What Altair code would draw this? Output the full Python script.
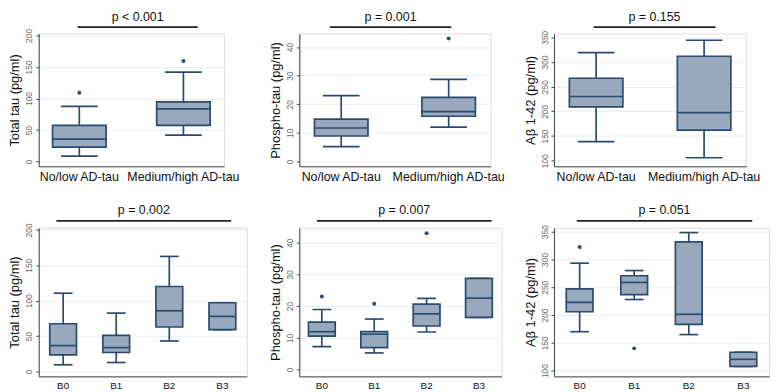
import altair as alt
import pandas as pd

FONT = "Liberation Sans"
NAVY = "#2b4a6f"
FILL = "#98a9be"
GRID = "#e7eef1"
AXISC = "#444444"

CATS_AD = ["No/low AD-tau", "Medium/high AD-tau"]
CATS_B = ["B0", "B1", "B2", "B3"]

# each entry: [lower whisker, Q1, median, Q3, upper whisker]
TTAU_AD = [[8.6, 22.8, 35.4, 57.2, 87.6], [42.0, 57.2, 83.5, 94.7, 141.8]]
TTAU_AD_OUT_CAT = ["No/low AD-tau", "Medium/high AD-tau"]
TTAU_AD_OUT = [109.0, 159.5]

PTAU_AD = [[5.2, 8.9, 11.7, 14.8, 23.0], [12.0, 15.8, 17.4, 22.4, 28.7]]
PTAU_AD_OUT_CAT = ["Medium/high AD-tau"]
PTAU_AD_OUT = [43.0]

AB_AD = [[138.5, 209.0, 230.0, 267.0, 319.0], [105.8, 162.0, 197.4, 311.5, 344.0]]
AB_AD_OUT_CAT = []
AB_AD_OUT = []

TTAU_B = [[9.4, 23.4, 36.5, 67.4, 110.5], [12.6, 26.7, 33.7, 51.0, 82.4],
          [43.0, 62.8, 85.7, 120.0, 162.5], [59.0, 59.0, 77.8, 97.0, 97.0]]
TTAU_B_OUT_CAT = []
TTAU_B_OUT = []

PTAU_B = [[7.2, 10.5, 11.9, 14.9, 18.9], [5.2, 6.9, 11.1, 11.9, 15.9],
          [11.8, 13.7, 17.5, 20.6, 22.4], [16.4, 16.4, 22.5, 28.7, 28.7]]
PTAU_B_OUT_CAT = ["B0", "B1", "B2"]
PTAU_B_OUT = [23.0, 20.7, 43.0]

AB_B = [[170.0, 205.9, 222.7, 247.0, 293.3], [227.9, 236.6, 258.6, 270.7, 280.0],
        [164.8, 183.3, 201.3, 331.5, 348.3], [107.5, 107.5, 120.3, 133.0, 133.0]]
AB_B_OUT_CAT = ["B0", "B1"]
AB_B_OUT = [322.2, 140.0]

TITLES = ["Total tau (pg/ml)", "Phospho-tau (pg/ml)", "Aβ 1-42 (pg/ml)"]
PVALS_AD = ["p < 0.001", "p = 0.001", "p = 0.155"]
PVALS_B = ["p = 0.002", "p = 0.007", "p = 0.051"]
TICKS_TAU = [0, 50, 100, 150, 200]
TICKS_PTAU = [0, 10, 20, 30, 40]
TICKS_AB = [100, 150, 200, 250, 300, 350]


def panel(cats, stats, out_cat, out_val, ytitle, domain, ticks, ptext,
          width, height, po, box, cap, xlab_size, pfrac, line_y, text_y):
    df = pd.DataFrame(stats, columns=["low", "q1", "med", "q3", "high"])
    df["cat"] = cats
    xs = alt.X("cat:N", sort=cats, title=None,
               scale=alt.Scale(type="band", paddingInner=0.5, paddingOuter=po),
               axis=alt.Axis(labelAngle=0, labelFont=FONT, labelFontSize=xlab_size,
                             labelColor="#111111", ticks=False, labelPadding=4,
                             domainColor=AXISC, domainWidth=1, grid=False))
    ysc = alt.Scale(domain=domain, nice=False, zero=False)
    yax = alt.Axis(values=ticks, labelAngle=270, labelAlign="center",
                   labelBaseline="bottom", labelFont=FONT, labelFontSize=8.5,
                   labelColor="#666666", tickSize=3, tickColor=AXISC,
                   labelPadding=2, titleFont=FONT, titleFontSize=13,
                   titleFontWeight="normal", titleColor="#111111", titlePadding=3,
                   grid=True, gridColor=GRID, domainColor=AXISC, domainWidth=1)

    def Y(f):
        return alt.Y(f, scale=ysc, axis=yax, title=ytitle)

    base = alt.Chart(df).encode(x=xs)
    whisk = base.mark_rule(color=NAVY, strokeWidth=1.7).encode(y=Y("low:Q"), y2="high:Q")
    cap_lo = base.mark_tick(color=NAVY, size=cap, thickness=1.7, opacity=1).encode(y=Y("low:Q"))
    cap_hi = base.mark_tick(color=NAVY, size=cap, thickness=1.7, opacity=1).encode(y=Y("high:Q"))
    bx = base.mark_bar(size=box, fill=FILL, stroke=NAVY, strokeWidth=1.7, opacity=1).encode(
        y=Y("q1:Q"), y2="q3:Q")
    med = base.mark_tick(color=NAVY, size=box, thickness=1.7, opacity=1).encode(y=Y("med:Q"))
    layers = [whisk, cap_lo, cap_hi, bx, med]
    if out_val:
        odf = pd.DataFrame({"cat": out_cat, "val": out_val})
        outs = alt.Chart(odf).mark_circle(size=16, color=NAVY, opacity=1).encode(
            x=xs, y=Y("val:Q"))
        layers.append(outs)
    tdf = pd.DataFrame({"t": [ptext]})
    x0 = pfrac[0] * width
    x1 = pfrac[1] * width
    rule = alt.Chart(tdf).mark_rule(color="#222222", strokeWidth=1.8).encode(
        x=alt.value(x0), x2=alt.value(x1), y=alt.value(line_y))
    txt = alt.Chart(tdf).mark_text(font=FONT, fontSize=12.5, color="#111111",
                                   align="center", baseline="alphabetic").encode(
        x=alt.value((x0 + x1) / 2), y=alt.value(text_y), text="t:N")
    layers += [rule, txt]
    return alt.layer(*layers).properties(width=width, height=height)


H1, H2 = 134, 150
p1 = panel(CATS_AD, TTAU_AD, TTAU_AD_OUT_CAT, TTAU_AD_OUT, TITLES[0], [-7.6, 203],
           TICKS_TAU, PVALS_AD[0], 187, H1, 0.14, 54, 37, 12.5, (0.21, 0.858), -6.5, -13)
p2 = panel(CATS_AD, PTAU_AD, PTAU_AD_OUT_CAT, PTAU_AD_OUT, TITLES[1], [-1.7, 44.7],
           TICKS_PTAU, PVALS_AD[1], 193, H1, 0.14, 54, 37, 12.5, (0.16, 0.794), -6.5, -13)
p3 = panel(CATS_AD, AB_AD, AB_AD_OUT_CAT, AB_AD_OUT, TITLES[2], [88.5, 357.6],
           TICKS_AB, PVALS_AD[2], 194, H1, 0.14, 54, 37, 12.5, (0.206, 0.84), -6.5, -13)
p4 = panel(CATS_B, TTAU_B, TTAU_B_OUT_CAT, TTAU_B_OUT, TITLES[0], [-7, 203],
           TICKS_TAU, PVALS_B[0], 210, H2, 0.21, 27, 19, 10, (0.085, 0.925), -7, -14)
p5 = panel(CATS_B, PTAU_B, PTAU_B_OUT_CAT, PTAU_B_OUT, TITLES[1], [-2.2, 44.7],
           TICKS_PTAU, PVALS_B[1], 204, H2, 0.18, 27, 19, 10, (0.087, 0.951), -7, -14)
p6 = panel(CATS_B, AB_B, AB_B_OUT_CAT, AB_B_OUT, TITLES[2], [89.6, 357],
           TICKS_AB, PVALS_B[2], 217, H2, 0.22, 27, 19, 10, (0.106, 0.922), -7, -14)

chart = alt.concat(p1, p2, p3, p4, p5, p6, columns=3,
                   spacing=alt.RowColnumber(row=62, column=53),
                   bounds="flush").properties(
    padding={"left": 0, "top": 0, "right": 0, "bottom": 0}
).configure_view(stroke=None).configure(background="white")

chart.save("out.html", embed_options={"renderer": "svg", "actions": False})
